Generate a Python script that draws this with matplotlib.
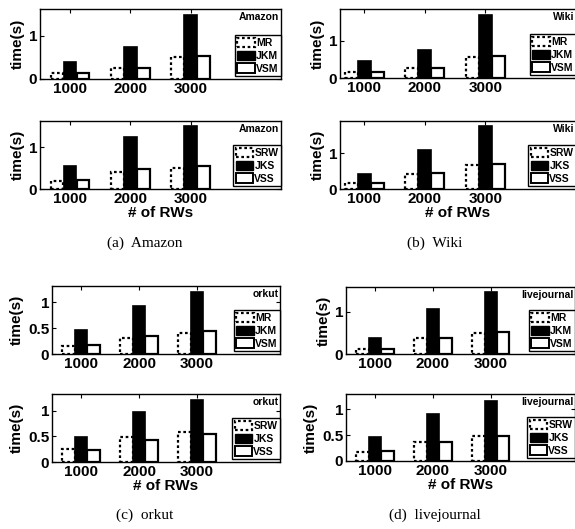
import numpy as np
import matplotlib
matplotlib.use('Agg')
import matplotlib.pyplot as plt
from matplotlib.patches import Patch

plt.rcParams['font.family'] = ['Liberation Sans', 'DejaVu Sans']
plt.rcParams['font.weight'] = 'bold'

W, H = 575, 529

rws = ['1000', '2000', '3000']
top_names = ['MR', 'JKM', 'VSM']
bot_names = ['SRW', 'JKS', 'VSS']

# one list per bar series
amazon_mr = [0.15, 0.25, 0.50]
amazon_jkm = [0.40, 0.73, 1.49]
amazon_vsm = [0.15, 0.26, 0.53]
amazon_srw = [0.18, 0.40, 0.49]
amazon_jks = [0.55, 1.23, 1.51]
amazon_vss = [0.21, 0.47, 0.55]

wiki_mr = [0.16, 0.26, 0.55]
wiki_jkm = [0.45, 0.76, 1.70]
wiki_vsm = [0.16, 0.27, 0.60]
wiki_srw = [0.17, 0.43, 0.66]
wiki_jks = [0.41, 1.10, 1.76]
wiki_vss = [0.16, 0.45, 0.70]

orkut_mr = [0.16, 0.32, 0.41]
orkut_jkm = [0.47, 0.94, 1.21]
orkut_vsm = [0.17, 0.34, 0.45]
orkut_srw = [0.25, 0.48, 0.59]
orkut_jks = [0.49, 0.97, 1.22]
orkut_vss = [0.23, 0.44, 0.54]

lj_mr = [0.13, 0.37, 0.51]
lj_jkm = [0.37, 1.06, 1.46]
lj_vsm = [0.13, 0.39, 0.53]
lj_srw = [0.18, 0.36, 0.49]
lj_jks = [0.47, 0.90, 1.16]
lj_vss = [0.19, 0.36, 0.48]


def box(l, t, r, b):
    return [l / W, 1 - b / H, (r - l) / W, (b - t) / H]


def draw(ax, vals, names, tag, xlim, ylim, yticks, yticklabels, xlabel=False):
    x = np.arange(1, len(rws) + 1)
    w = 0.21
    off = 0.215
    dots = (0, (1.2, 1.2))
    ax.bar(x - off, vals[0], w, facecolor='white', edgecolor='black', linewidth=1.6, linestyle=dots)
    ax.bar(x, vals[1], w, facecolor='black', edgecolor='black', linewidth=1.2)
    ax.bar(x + off, vals[2], w, facecolor='white', edgecolor='black', linewidth=1.6)
    ax.set_xlim(xlim)
    ax.set_ylim(ylim)
    ax.set_xticks(x)
    ax.set_xticklabels(rws, fontsize=11, fontweight='bold')
    ax.set_yticks(yticks)
    ax.set_yticklabels(yticklabels, fontsize=11, fontweight='bold')
    ax.tick_params(direction='in', top=True, right=True, length=3, width=0.8, pad=2)
    for s in ax.spines.values():
        s.set_linewidth(1.0)
    ax.set_ylabel('time(s)', fontsize=11, fontweight='bold', labelpad=3)
    if xlabel:
        ax.set_xlabel('# of RWs', fontsize=11, fontweight='bold', labelpad=0)
    ax.text(0.993, 0.96, tag, transform=ax.transAxes, ha='right', va='top',
            fontsize=7.5, fontweight='bold')
    handles = [Patch(facecolor='white', edgecolor='black', linestyle=dots, linewidth=1.6),
               Patch(facecolor='black', edgecolor='black'),
               Patch(facecolor='white', edgecolor='black', linewidth=1.4)]
    leg = ax.legend(handles, names, loc='lower right', bbox_to_anchor=(1.0, 0.04),
                    frameon=True, fancybox=False, framealpha=1,
                    edgecolor='black', borderpad=0.25, labelspacing=0.25,
                    handlelength=1.7, handleheight=1.0, handletextpad=0.1,
                    borderaxespad=0.0, prop={'weight': 'bold', 'size': 7.5})
    leg.get_frame().set_linewidth(1.0)


fig = plt.figure(figsize=(W / 100, H / 100), dpi=100)

ax = fig.add_axes(box(40, 9, 281, 79))
draw(ax, [amazon_mr, amazon_jkm, amazon_vsm], top_names, 'Amazon', (0.5, 4.5), (0, 1.62), [0, 1], ['0', '1'])
ax = fig.add_axes(box(40, 121, 281, 189))
draw(ax, [amazon_srw, amazon_jks, amazon_vss], bot_names, 'Amazon', (0.5, 4.5), (0, 1.62), [0, 1], ['0', '1'], xlabel=True)

ax = fig.add_axes(box(340, 9, 576, 78))
draw(ax, [wiki_mr, wiki_jkm, wiki_vsm], top_names, 'Wiki', (0.6, 4.5), (0, 1.85), [0, 1], ['0', '1'])
ax = fig.add_axes(box(340, 121, 576, 189))
draw(ax, [wiki_srw, wiki_jks, wiki_vss], bot_names, 'Wiki', (0.6, 4.5), (0, 1.9), [0, 1], ['0', '1'], xlabel=True)

ax = fig.add_axes(box(52, 286, 280, 354))
draw(ax, [orkut_mr, orkut_jkm, orkut_vsm], top_names, 'orkut', (0.5, 4.43), (0, 1.32), [0, 0.5, 1], ['0', '0.5', '1'])
ax = fig.add_axes(box(52, 394, 280, 462))
draw(ax, [orkut_srw, orkut_jks, orkut_vss], bot_names, 'orkut', (0.5, 4.43), (0, 1.33), [0, 0.5, 1], ['0', '0.5', '1'], xlabel=True)

ax = fig.add_axes(box(346, 287, 575, 354))
draw(ax, [lj_mr, lj_jkm, lj_vsm], top_names, 'livejournal', (0.5, 4.45), (0, 1.59), [0, 1], ['0', '1'])
ax = fig.add_axes(box(346, 394, 575, 461))
draw(ax, [lj_srw, lj_jks, lj_vss], bot_names, 'livejournal', (0.5, 4.45), (0, 1.29), [0, 0.5, 1], ['0', '0.5', '1'], xlabel=True)

cap = dict(ha='center', va='center', fontsize=11, family=['Liberation Serif', 'DejaVu Serif'], fontweight='normal')
fig.text(145 / W, 1 - 243 / H, '(a)  Amazon', **cap)
fig.text(435 / W, 1 - 243 / H, '(b)  Wiki', **cap)
fig.text(145 / W, 1 - 515 / H, '(c)  orkut', **cap)
fig.text(435 / W, 1 - 515 / H, '(d)  livejournal', **cap)

fig.savefig('out.png', dpi=100)
